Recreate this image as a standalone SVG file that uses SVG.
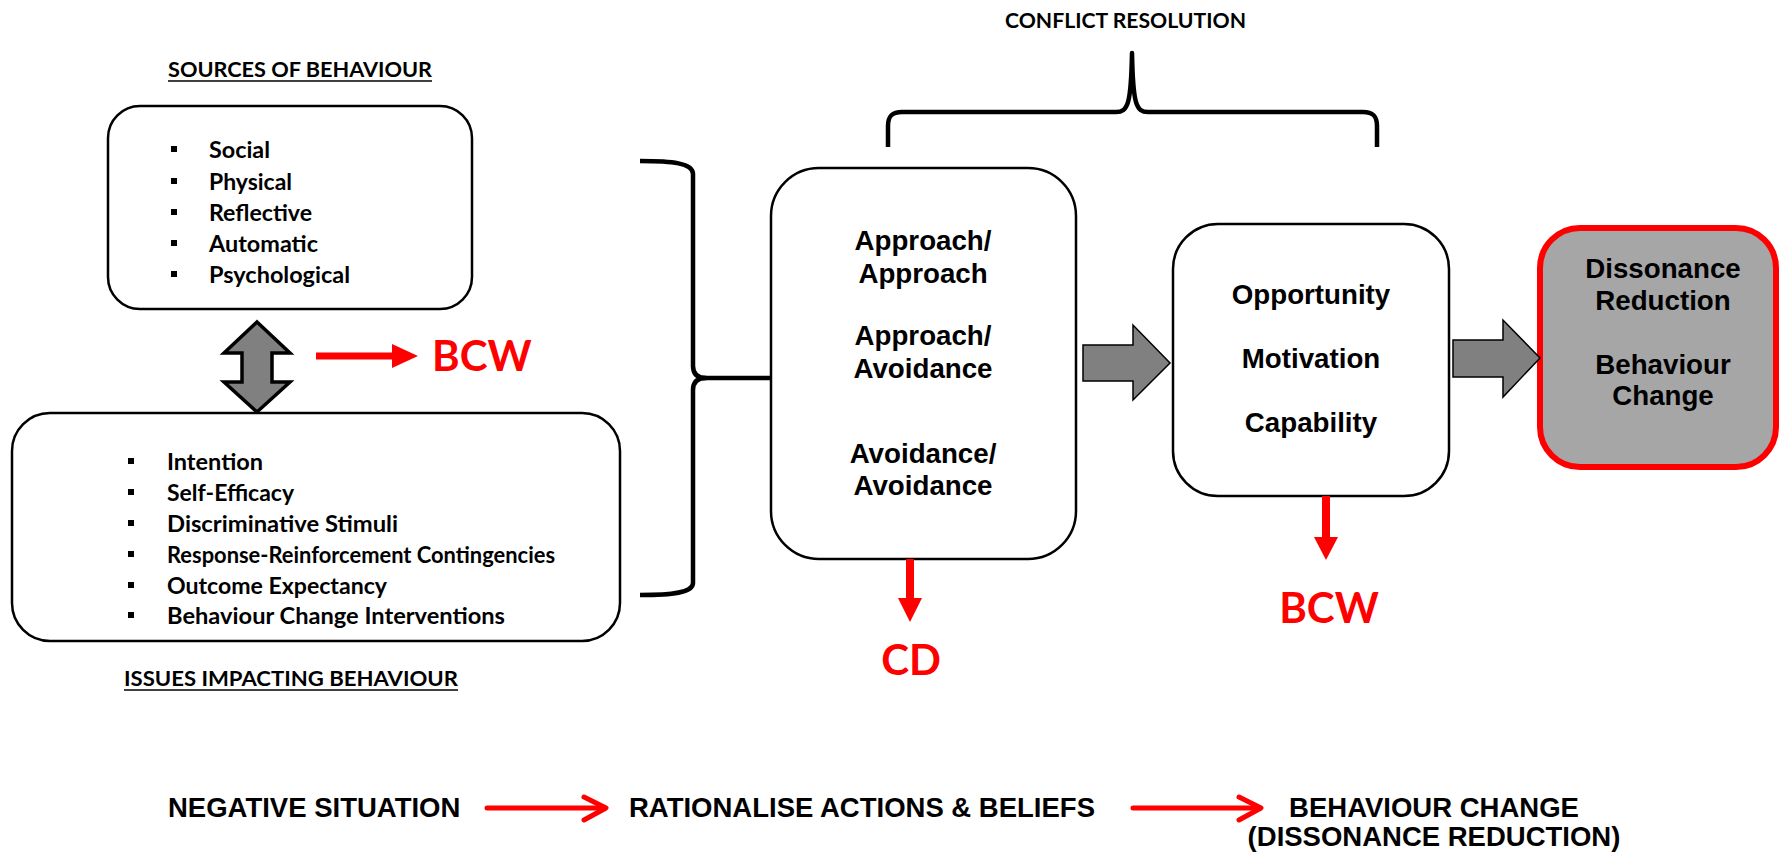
<svg xmlns="http://www.w3.org/2000/svg" width="1780" height="854" viewBox="0 0 1780 854">
  <style>
    .box { fill: #ffffff; stroke: #000000; stroke-width: 2.5; }
    .cal { font-family: Lato, "Open Sans", sans-serif; font-weight: 700; fill: #000000; }
    .ari { font-family: "Liberation Sans", Arial, sans-serif; font-weight: 700; fill: #000000; }
    .item { font-size: 23px; }
    .head { font-size: 20px; }
    .node { font-size: 27.7px; text-anchor: middle; }
    .flow { font-size: 27.5px; }
    .red { font-family: Lato, "Open Sans", sans-serif; font-weight: 700; font-size: 42px; fill: #ff0000; }
    .bullet { fill: #000000; }
    .brace { fill: none; stroke: #000000; stroke-width: 4.5; stroke-linejoin: round; }
    .block { fill: #808080; stroke: #000000; stroke-width: 1.5; stroke-linejoin: miter; }
    .redline { stroke: #ff0000; fill: none; }
    .redhead { fill: #ff0000; stroke: none; }
    .uline { stroke: #000000; stroke-width: 1.6; }
  </style>

  <!-- section headings -->
  <g id="headings">
    <text class="cal head" x="168" y="77" textLength="264" lengthAdjust="spacingAndGlyphs">SOURCES OF BEHAVIOUR</text>
    <line class="uline" x1="168" y1="81" x2="432" y2="81"/>
    <text class="cal head" x="124" y="686" textLength="334" lengthAdjust="spacingAndGlyphs">ISSUES IMPACTING BEHAVIOUR</text>
    <line class="uline" x1="124" y1="690" x2="458" y2="690"/>
    <text class="cal head" x="1005" y="28" textLength="241" lengthAdjust="spacingAndGlyphs">CONFLICT RESOLUTION</text>
  </g>

  <!-- sources of behaviour -->
  <g id="sources">
    <rect class="box" x="108" y="106" width="364" height="203" rx="32" ry="32"/>
    <rect class="bullet" x="171" y="146" width="6" height="6"/>
    <rect class="bullet" x="171" y="178" width="6" height="6"/>
    <rect class="bullet" x="171" y="209" width="6" height="6"/>
    <rect class="bullet" x="171" y="240" width="6" height="6"/>
    <rect class="bullet" x="171" y="271" width="6" height="6"/>
    <text class="cal item" x="209" y="158" textLength="61" lengthAdjust="spacingAndGlyphs">Social</text>
    <text class="cal item" x="209" y="190" textLength="83" lengthAdjust="spacingAndGlyphs">Physical</text>
    <text class="cal item" x="209" y="221" textLength="103" lengthAdjust="spacingAndGlyphs">Reflective</text>
    <text class="cal item" x="209" y="252" textLength="109" lengthAdjust="spacingAndGlyphs">Automatic</text>
    <text class="cal item" x="209" y="283" textLength="141" lengthAdjust="spacingAndGlyphs">Psychological</text>
  </g>

  <!-- issues impacting behaviour -->
  <g id="issues">
    <rect class="box" x="12" y="413" width="608" height="228" rx="38" ry="38"/>
    <rect class="bullet" x="128" y="458" width="6" height="6"/>
    <rect class="bullet" x="128" y="489" width="6" height="6"/>
    <rect class="bullet" x="128" y="520" width="6" height="6"/>
    <rect class="bullet" x="128" y="551" width="6" height="6"/>
    <rect class="bullet" x="128" y="582" width="6" height="6"/>
    <rect class="bullet" x="128" y="612" width="6" height="6"/>
    <text class="cal item" x="167" y="470" textLength="96" lengthAdjust="spacingAndGlyphs">Intention</text>
    <text class="cal item" x="167" y="501" textLength="127" lengthAdjust="spacingAndGlyphs">Self-Efficacy</text>
    <text class="cal item" x="167" y="532" textLength="231" lengthAdjust="spacingAndGlyphs">Discriminative Stimuli</text>
    <text class="cal item" x="167" y="563" textLength="388" lengthAdjust="spacingAndGlyphs">Response-Reinforcement Contingencies</text>
    <text class="cal item" x="167" y="594" textLength="220" lengthAdjust="spacingAndGlyphs">Outcome Expectancy</text>
    <text class="cal item" x="167" y="624" textLength="338" lengthAdjust="spacingAndGlyphs">Behaviour Change Interventions</text>
  </g>

  <!-- conflict types -->
  <g id="conflict">
    <rect class="box" x="771" y="168" width="305" height="391" rx="48" ry="48"/>
    <text class="ari node" x="923" y="250">Approach/</text>
    <text class="ari node" x="923" y="283">Approach</text>
    <text class="ari node" x="923" y="345">Approach/</text>
    <text class="ari node" x="923" y="378">Avoidance</text>
    <text class="ari node" x="923" y="463">Avoidance/</text>
    <text class="ari node" x="923" y="495">Avoidance</text>
  </g>

  <!-- COM-B components -->
  <g id="comb">
    <rect class="box" x="1173" y="224" width="276" height="272" rx="45" ry="45"/>
    <text class="ari node" x="1311" y="304">Opportunity</text>
    <text class="ari node" x="1311" y="368">Motivation</text>
    <text class="ari node" x="1311" y="432">Capability</text>
  </g>

  <!-- outcome -->
  <g id="outcome">
    <rect x="1540" y="228" width="236" height="239" rx="40" ry="40" fill="#a6a6a6" stroke="#ff0000" stroke-width="6"/>
    <text class="ari node" x="1663" y="278">Dissonance</text>
    <text class="ari node" x="1663" y="310">Reduction</text>
    <text class="ari node" x="1663" y="374">Behaviour</text>
    <text class="ari node" x="1663" y="405">Change</text>
  </g>

  <!-- red labels -->
  <g id="bcw-left">
    <text class="red" x="432" y="371">BCW</text>
  </g>
  <g id="cd">
    <text class="red" x="911" y="675" text-anchor="middle">CD</text>
  </g>
  <g id="bcw-right">
    <text class="red" x="1329" y="623" text-anchor="middle">BCW</text>
  </g>

  <!-- bottom flow labels -->
  <g id="flow-negative">
    <text class="ari flow" x="168" y="817">NEGATIVE SITUATION</text>
  </g>
  <g id="flow-rationalise">
    <text class="ari flow" x="629" y="817">RATIONALISE ACTIONS &amp; BELIEFS</text>
  </g>
  <g id="flow-change">
    <text class="ari flow" x="1434" y="817" text-anchor="middle">BEHAVIOUR CHANGE</text>
    <text class="ari flow" x="1434" y="846" text-anchor="middle">(DISSONANCE REDUCTION)</text>
  </g>

  <!-- connectors -->
  <g id="connectors">
    <!-- two-way arrow between the boxes on the left -->
    <path class="block" style="stroke-width:3.5" d="M257 322 L290 353 L272 353 L272 382 L290 382 L257 412 L224 382 L242 382 L242 353 L224 353 Z"/>

    <!-- red arrow to BCW -->
    <line class="redline" x1="316" y1="356" x2="394" y2="356" stroke-width="7"/>
    <polygon class="redhead" points="392,344 418,356 392,368"/>

    <!-- curly brace grouping the left boxes -->
    <path class="brace" d="M640 161 C672 161 693 163 693 174 L693 366 C693 374 697 378 706 378 C697 378 693 382 693 390 L693 583 C693 593 672 595 640 595"/>
    <line x1="700" y1="378" x2="771" y2="378" stroke="#000000" stroke-width="4.5"/>

    <!-- brace over conflict resolution -->
    <path class="brace" d="M888 147 L888 126 C888 116 892 112 902 112 L1116 112 C1128 112 1131 104 1132 53 C1133 104 1136 112 1148 112 L1363 112 C1373 112 1377 116 1377 126 L1377 147"/>

    <!-- block arrows between the stages -->
    <path class="block" d="M1083 345 L1133 345 L1133 325 L1170 363 L1133 400 L1133 381 L1083 381 Z"/>
    <path class="block" d="M1453 340 L1503 340 L1503 320 L1540 358 L1503 397 L1503 377 L1453 377 Z"/>

    <!-- red arrow to CD -->
    <line class="redline" x1="910" y1="559" x2="910" y2="600" stroke-width="8"/>
    <polygon class="redhead" points="898,598 922,598 910,622"/>

    <!-- red arrow to BCW -->
    <line class="redline" x1="1326" y1="496" x2="1326" y2="539" stroke-width="8"/>
    <polygon class="redhead" points="1314,537 1338,537 1326,560"/>

    <!-- bottom flow arrows -->
    <g stroke="#ff0000" stroke-width="5" fill="none" stroke-linecap="round" stroke-linejoin="round">
      <line x1="487" y1="808" x2="604" y2="808"/>
      <polyline points="584,797 606,808 584,820"/>
      <line x1="1133" y1="808" x2="1259" y2="808"/>
      <polyline points="1239,797 1261,808 1239,820"/>
    </g>
  </g>
</svg>
